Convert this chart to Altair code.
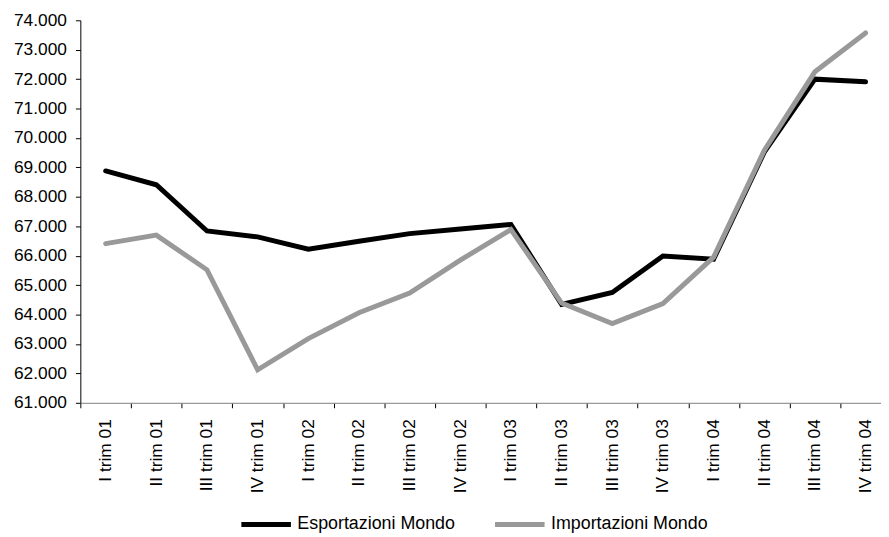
import altair as alt
import pandas as pd

quarters = [
    "I trim 01", "II trim 01", "III trim 01", "IV trim 01",
    "I trim 02", "II trim 02", "III trim 02", "IV trim 02",
    "I trim 03", "II trim 03", "III trim 03", "IV trim 03",
    "I trim 04", "II trim 04", "III trim 04", "IV trim 04",
]
esportazioni = [68880, 68410, 66840, 66640, 66220, 66490, 66750, 66910,
                67060, 64340, 64750, 65990, 65880, 69520, 72000, 71910]
importazioni = [66410, 66700, 65520, 62120, 63180, 64060, 64730, 65850,
                66890, 64390, 63690, 64370, 65950, 69580, 72250, 73570]
series_names = ["Esportazioni Mondo", "Importazioni Mondo"]
series_colors = ["#000000", "#999999"]
y_ticks = [61000, 62000, 63000, 64000, 65000, 66000, 67000,
           68000, 69000, 70000, 71000, 72000, 73000, 74000]

rows = []
for name, vals in zip(series_names, [esportazioni, importazioni]):
    for q, v in zip(quarters, vals):
        rows.append({"trimestre": q, "valore": v, "serie": name})
df = pd.DataFrame(rows)

FONT = "Liberation Sans"

chart = alt.Chart(df).mark_line(strokeWidth=5, strokeCap="round").encode(
    x=alt.X(
        "trimestre:N",
        sort=quarters,
        axis=alt.Axis(
            title=None,
            labelAngle=270,
            labelFontSize=17.5,
            labelFont=FONT,
            labelColor="#000000",
            labelPadding=11,
            tickBand="extent",
            tickSize=5,
            tickColor="#000000",
            domainColor="#808080",
            grid=False,
        ),
    ),
    y=alt.Y(
        "valore:Q",
        scale=alt.Scale(domain=[61000, 74000], nice=False, zero=False),
        axis=alt.Axis(
            title=None,
            values=y_ticks,
            labelExpr="replace(format(datum.value, ','), ',', '.')",
            labelFontSize=17.5,
            labelFont=FONT,
            labelColor="#000000",
            labelPadding=9,
            tickSize=5,
            tickColor="#000000",
            domainColor="#000000",
            grid=False,
        ),
    ),
    color=alt.Color(
        "serie:N",
        scale=alt.Scale(domain=series_names, range=series_colors),
        legend=alt.Legend(
            title=None,
            orient="none",
            direction="horizontal",
            legendX=160,
            legendY=481,
            symbolType="stroke",
            symbolSize=2500,
            symbolStrokeWidth=5,
            labelFontSize=18,
            labelFont=FONT,
            labelColor="#000000",
            labelOffset=4,
            columnPadding=29,
            padding=0,
        ),
    ),
).properties(
    width=818,
    height=386,
    autosize=alt.AutoSizeParams(type="none"),
    padding={"left": 73, "top": 10, "right": -10, "bottom": 133},
).configure_view(stroke=None)

chart.save("out.html", embed_options={"renderer": "svg", "actions": False})
